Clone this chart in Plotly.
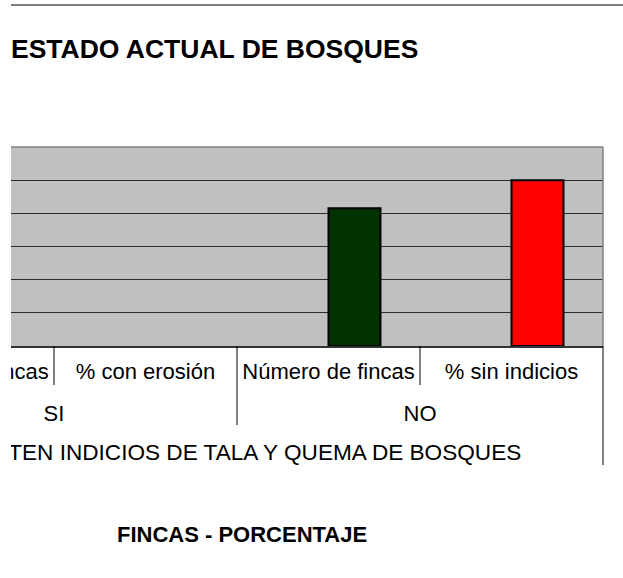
import plotly.graph_objects as go

# ---- data ----
categories = ["Número de fincas", "% con erosión", "Número de fincas", "% sin indicios"]
groups = ["SI", "NO"]
group_spans = [[0, 1], [2, 3]]
axis_title = "EXISTEN INDICIOS DE TALA Y QUEMA DE BOSQUES"
serie1 = [0, 0, 0, 0]
serie2 = [0, 0, 83, 100]
serie2_colors = ["#003300", "#FF0000", "#003300", "#FF0000"]
y_ticks = [20, 40, 60, 80, 100]
chart_title = "ESTADO ACTUAL DE BOSQUES"
legend_title = "FINCAS - PORCENTAJE"

# ---- layout geometry (pixels) ----
W, H = 623, 578
ML, MR, MT, MB = 11, 0, 147, 108
PLOT_BOTTOM = 346          # main plot bottom px
PAPER_W = W - ML - MR
PAPER_H = H - MT - MB
MAIN_RIGHT = 603
LBL_H = (H - MB) - PLOT_BOTTOM   # height of label strip in px
x_left = 0.265
px_per_cat = (MAIN_RIGHT - ML) / (len(categories) - 0.5 - x_left)


def py(p):
    """pixel y -> paper y"""
    return 1 - (p - MT) / PAPER_H


main_dom_bottom = LBL_H / PAPER_H
xs = list(range(len(categories)))
FONT = "Liberation Sans, Arial"

fig = go.Figure()

fig.add_trace(go.Bar(
    x=xs, y=serie1, name="Serie1", marker=dict(color="#9999FF", line=dict(width=0)),
    xaxis="x", yaxis="y", hoverinfo="skip"))
fig.add_trace(go.Bar(
    x=xs, y=serie2, name="Serie2",
    marker=dict(color=serie2_colors,
                line=dict(color="black", width=[2 if v else 0 for v in serie2])),
    xaxis="x", yaxis="y"))

# category labels (level 1)
fig.add_trace(go.Scatter(
    x=xs, y=[27] * len(xs), mode="text", text=categories,
    textposition="middle center", cliponaxis=True,
    textfont=dict(family=FONT, size=22, color="black"),
    xaxis="x2", yaxis="y2", hoverinfo="skip"))
# group labels (level 2)
fig.add_trace(go.Scatter(
    x=[sum(s) / len(s) for s in group_spans], y=[69.5] * len(groups), mode="text", text=groups,
    textposition="middle center", cliponaxis=True,
    textfont=dict(family=FONT, size=22, color="black"),
    xaxis="x2", yaxis="y2", hoverinfo="skip"))
# level 3 label
fig.add_trace(go.Scatter(
    x=[(len(categories) - 1) / 2 + 2 / px_per_cat], y=[108.4], mode="text", text=[axis_title],
    textposition="middle center", cliponaxis=True,
    textfont=dict(family=FONT, size=22.6, color="black"),
    xaxis="x2", yaxis="y2", hoverinfo="skip"))

# divider lines between categories / groups
div_x, div_y = [], []
n = len(categories)
for i in range(n + 1):
    b = i - 0.5
    if i == 0 or i == n:
        depth = 119
    elif any(s[0] == i for s in group_spans):
        depth = 79
    else:
        depth = 39
    div_x += [b, b, None]
    div_y += [0, depth, None]
fig.add_trace(go.Scatter(
    x=div_x, y=div_y, mode="lines", line=dict(color="black", width=1),
    cliponaxis=True, xaxis="x2", yaxis="y2", hoverinfo="skip"))

main_right_frac = (MAIN_RIGHT - ML) / PAPER_W

fig.update_layout(
    width=W, height=H,
    margin=dict(l=ML, r=MR, t=MT, b=MB, pad=0),
    paper_bgcolor="white",
    plot_bgcolor="white",
    showlegend=False,
    barmode="group", bargap=0.432, bargroupgap=0,
    xaxis=dict(domain=[0, main_right_frac], range=[x_left, len(categories) - 0.5],
               showticklabels=False, ticks="", showgrid=False, zeroline=False,
               showline=True, linecolor="#333333", linewidth=1.5, anchor="y"),
    yaxis=dict(domain=[main_dom_bottom, 1], range=[0, 120], tickvals=y_ticks,
               showticklabels=False, ticks="", showgrid=True, gridcolor="#2e2e2e",
               gridwidth=1.2, zeroline=False, showline=False, anchor="x"),
    xaxis2=dict(domain=[0, 1], range=[x_left, x_left + PAPER_W / px_per_cat],
                visible=False, anchor="y2"),
    yaxis2=dict(domain=[0, main_dom_bottom], range=[LBL_H, 0], visible=False, anchor="x2"),
    shapes=[
        dict(type="rect", xref="x domain", yref="y domain", x0=0, x1=1, y0=0, y1=1,
             layer="below", fillcolor="#C0C0C0", line=dict(width=0)),
        dict(type="line", xref="paper", yref="paper", x0=0, x1=1,
             y0=py(5), y1=py(5), line=dict(color="#555555", width=1.5)),
        dict(type="line", xref="paper", yref="paper", x0=0, x1=main_right_frac,
             y0=1, y1=1, line=dict(color="#808080", width=1.5)),
        dict(type="line", xref="paper", yref="paper", x0=main_right_frac, x1=main_right_frac,
             y0=main_dom_bottom, y1=1, line=dict(color="#808080", width=1.5)),
    ],
    annotations=[
        dict(text="<b>" + chart_title + "</b>", xref="paper", yref="paper",
             x=0, y=py(49), xanchor="left", yanchor="middle", showarrow=False,
             xshift=-2, font=dict(family=FONT, size=26.5, color="black")),
        dict(text="<b>" + legend_title + "</b>", xref="paper", yref="paper",
             x=(241.5 - ML) / PAPER_W, y=py(534), xanchor="center", yanchor="middle",
             showarrow=False,
             font=dict(family=FONT, size=22, color="black")),
    ],
)

fig.write_html(
    "out.html",
    config={"displayModeBar": False},
    post_script="document.body.style.margin='0';document.body.style.overflow='hidden';",
)
